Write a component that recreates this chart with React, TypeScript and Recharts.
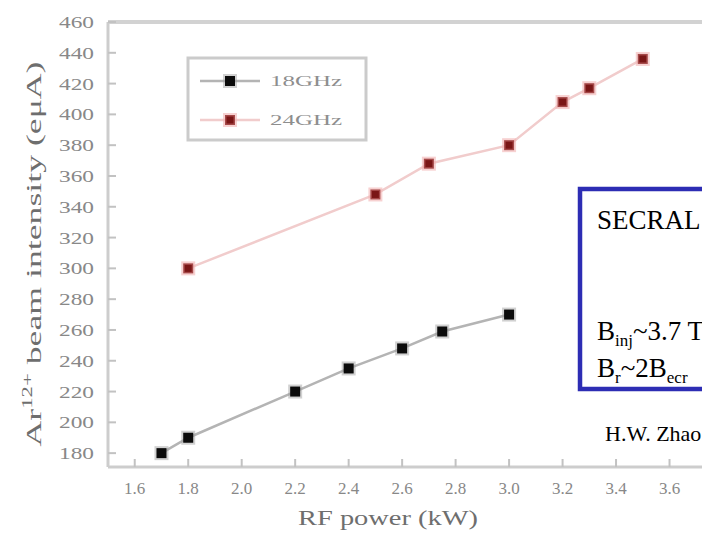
import React from 'react';
import { LineChart, Line, XAxis, YAxis, ReferenceLine, Legend, Customized } from 'recharts';

// 18 GHz series
const f18Power = [1.7, 1.8, 2.2, 2.4, 2.6, 2.75, 3.0];
const f18Current = [180, 190, 220, 235, 248, 259, 270];
// 24 GHz series
const f24Power = [1.8, 2.5, 2.7, 3.0, 3.2, 3.3, 3.5];
const f24Current = [300, 348, 368, 380, 408, 417, 436];

const seriesNames = ['18GHz', '24GHz'];
const xTicks = [1.6, 1.8, 2.0, 2.2, 2.4, 2.6, 2.8, 3.0, 3.2, 3.4, 3.6];
const yTicks = [180, 200, 220, 240, 260, 280, 300, 320, 340, 360, 380, 400, 420, 440, 460];

const data18 = f18Power.map((x, i) => ({ x, y: f18Current[i] }));
const data24 = f24Power.map((x, i) => ({ x, y: f24Current[i] }));

const SERIF = '"Liberation Serif", "Times New Roman", serif';
const AXIS = '#cdcdcd';
const TICKTXT = '#888888';

const BlackSquare = (props: any) => {
  const { cx, cy } = props;
  if (cx == null || cy == null) return null;
  return (
    <g>
      <rect x={cx - 7} y={cy - 7} width={14} height={14} fill="#9a9a9a" opacity={0.45} />
      <rect x={cx - 5} y={cy - 5} width={10} height={10} fill="#0b0b0b" />
    </g>
  );
};

const RedSquare = (props: any) => {
  const { cx, cy } = props;
  if (cx == null || cy == null) return null;
  return (
    <g>
      <rect x={cx - 7} y={cy - 7} width={14} height={14} fill="#f2b3b3" opacity={0.6} />
      <rect x={cx - 5} y={cy - 5} width={10} height={10} fill="#a54848" />
      <rect x={cx - 3.5} y={cy - 3.5} width={7} height={7} fill="#7a1616" />
    </g>
  );
};

const XTick = (props: any) => {
  const { x, y, payload } = props;
  return (
    <text x={x} y={y + 33} textAnchor="middle" fontFamily={SERIF} fontSize={17} fill={TICKTXT}>
      {Number(payload.value).toFixed(1)}
    </text>
  );
};

const YTick = (props: any) => {
  const { x, y, payload } = props;
  return (
    <text
      x={x - 55}
      y={y + 6}
      textAnchor="start"
      fontFamily={SERIF}
      fontSize={17}
      fill={TICKTXT}
      textLength={35}
      lengthAdjust="spacingAndGlyphs"
    >
      {payload.value}
    </text>
  );
};

const LegendBox = (props: any) => {
  const payload = props.payload || [];
  return (
    <svg width={184} height={88} style={{ display: 'block' }}>
      <rect x={2} y={2} width={178} height={82} fill="#fff" stroke="#cbcbcb" strokeWidth={3} />
      {payload.map((p: any, i: number) => {
        const cy = 25 + i * 39;
        const isRed = i === 1;
        return (
          <g key={i}>
            <line x1={14} x2={74} y1={cy} y2={cy} stroke={isRed ? '#f1cccc' : '#b4b4b4'} strokeWidth={2.5} />
            {isRed ? <RedSquare cx={44} cy={cy} /> : <BlackSquare cx={44} cy={cy} />}
            <text
              x={84}
              y={cy + 5}
              fontFamily={SERIF}
              fontSize={15}
              fill="#8e8e8e"
              textLength={72}
              lengthAdjust="spacingAndGlyphs"
            >
              {p.value}
            </text>
          </g>
        );
      })}
    </svg>
  );
};

const Annotation = () => (
  <g>
    <rect x={580} y={189} width={220} height={200} fill="#fff" stroke="#2d2db4" strokeWidth={4.5} />
    <text x={597} y={229} fontFamily={SERIF} fontSize={27} fill="#000">SECRAL</text>
    <text x={597} y={340} fontFamily={SERIF} fontSize={27} fill="#000">
      B<tspan fontSize={17} dy={6}>inj</tspan>
      <tspan dy={-6}>~3.7 T</tspan>
    </text>
    <text x={597} y={377} fontFamily={SERIF} fontSize={27} fill="#000">
      B<tspan fontSize={17} dy={6}>r</tspan>
      <tspan dy={-6}>~2B</tspan>
      <tspan fontSize={17} dy={6}>ecr</tspan>
    </text>
    <text x={605} y={441} fontFamily={SERIF} fontSize={22} fill="#000">H.W. Zhao et al.</text>
  </g>
);

const XTitle = () => (
  <text
    x={388}
    y={525}
    textAnchor="middle"
    fontFamily={SERIF}
    fontSize={20}
    fill="#6e6e6e"
    textLength={180}
    lengthAdjust="spacingAndGlyphs"
  >
    RF power (kW)
  </text>
);

const YTitle = () => (
  <text
    transform="translate(41, 254) rotate(-90)"
    textAnchor="middle"
    fontFamily={SERIF}
    fontSize={22}
    fill="#6e6e6e"
    textLength={385}
    lengthAdjust="spacingAndGlyphs"
  >
    Ar<tspan fontSize={14} dy={-9}>12+</tspan>
    <tspan dy={9}> beam intensity (eμA)</tspan>
  </text>
);

export default function App() {
  return (
    <div
      style={{
        position: 'fixed',
        left: 0,
        top: 0,
        width: 702,
        height: 534,
        overflow: 'hidden',
        background: '#fff',
      }}
    >
      <LineChart width={760} height={534} margin={{ top: 22, right: 37, bottom: 0, left: 0 }}>
        <XAxis
          type="number"
          dataKey="x"
          domain={[1.5, 3.8]}
          ticks={xTicks}
          allowDataOverflow
          height={67}
          axisLine={{ stroke: AXIS, strokeWidth: 3 }}
          tickLine={{ stroke: '#c2c2c2', strokeWidth: 2 }}
          tickSize={-8}
          tick={<XTick />}
          label={<XTitle />}
        />
        <YAxis
          type="number"
          dataKey="y"
          domain={[171, 460]}
          ticks={yTicks}
          allowDataOverflow
          width={108}
          axisLine={{ stroke: AXIS, strokeWidth: 3 }}
          tickLine={{ stroke: '#c2c2c2', strokeWidth: 2 }}
          tickSize={-8}
          tick={<YTick />}
          label={<YTitle />}
        />
        <ReferenceLine y={460} stroke="#d2d2d2" strokeWidth={4} ifOverflow="visible" />
        <Line
          data={data18}
          dataKey="y"
          name={seriesNames[0]}
          stroke="#b4b4b4"
          strokeWidth={2.5}
          dot={<BlackSquare />}
          activeDot={false}
          isAnimationActive={false}
        />
        <Line
          data={data24}
          dataKey="y"
          name={seriesNames[1]}
          stroke="#f1cccc"
          strokeWidth={2.5}
          dot={<RedSquare />}
          activeDot={false}
          isAnimationActive={false}
        />
        <Legend
          layout="horizontal"
          verticalAlign="middle"
          content={<LegendBox />}
          wrapperStyle={{ position: 'absolute', left: 186, top: 56, width: 184, height: 88 }}
        />
        <Customized component={<Annotation />} />
      </LineChart>
    </div>
  );
}
